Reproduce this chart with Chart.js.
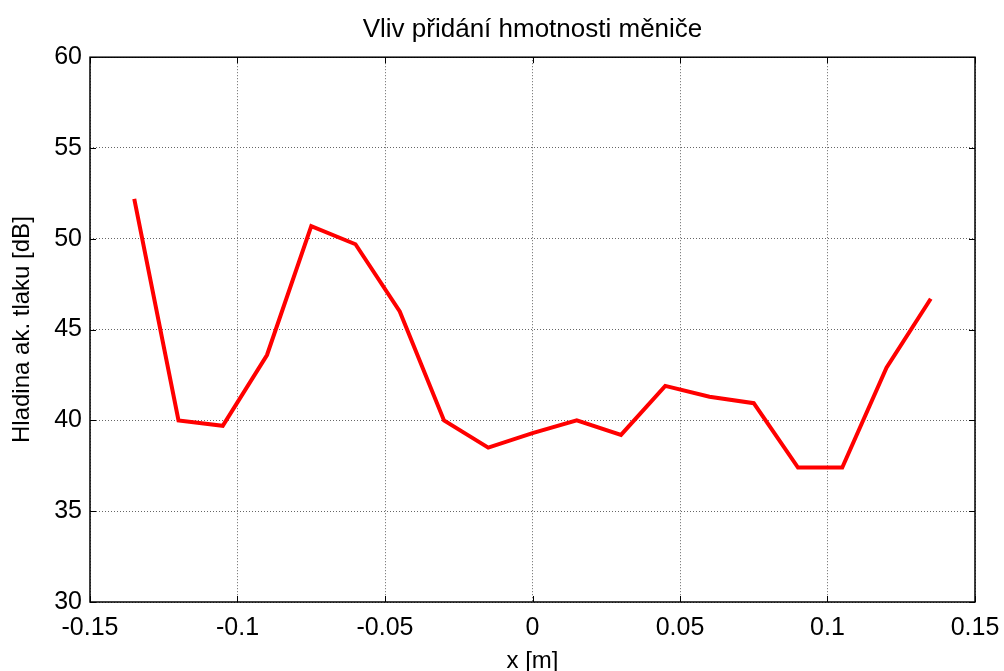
<!DOCTYPE html>
<html>
<head>
<meta charset="utf-8">
<title>Vliv přidání hmotnosti měniče</title>
<script src="https://cdn.jsdelivr.net/npm/chart.js@4.4.1/dist/chart.umd.min.js"></script>
<style>
    html, body { margin: 0; padding: 0; background: #fff; }
    #graf { display: block; }
</style>
</head>
<body>
<canvas id="graf" width="1004" height="671"></canvas>
<script>
const polohy = [-0.135, -0.12, -0.105, -0.09, -0.075, -0.06, -0.045, -0.03, -0.015, 0,
    0.015, 0.03, 0.045, 0.06, 0.075, 0.09, 0.105, 0.12, 0.135];
const hladiny = [52.2, 40.0, 39.7, 43.6, 50.7, 49.7, 46.0, 40.0, 38.5, 39.3,
    40.0, 39.2, 41.9, 41.3, 40.95, 37.4, 37.4, 42.9, 46.7];

const nadpis = "Vliv přidání hmotnosti měniče";
const popisX = "x [m]";
const popisY = "Hladina ak. tlaku [dB]";

const body = polohy.map((x, i) => ({ x: x, y: hladiny[i] }));

Chart.defaults.font.family = "'Liberation Sans', Arial, sans-serif";
Chart.defaults.color = "#000";

// MATLAB-like box with inward ticks on all four sides
const ramecek = {
    id: "ramecek",
    afterDraw(chart) {
        const { ctx, chartArea: a, scales } = chart;
        const delka = 6;
        ctx.save();
        ctx.strokeStyle = "#000";
        ctx.lineWidth = 1;
        scales.x.ticks.forEach(t => {
            const px = Math.round(scales.x.getPixelForValue(t.value)) + 0.5;
            ctx.beginPath();
            ctx.moveTo(px, a.bottom);
            ctx.lineTo(px, a.bottom - delka);
            ctx.moveTo(px, a.top);
            ctx.lineTo(px, a.top + delka);
            ctx.stroke();
        });
        scales.y.ticks.forEach(t => {
            const py = Math.round(scales.y.getPixelForValue(t.value)) + 0.5;
            ctx.beginPath();
            ctx.moveTo(a.left, py);
            ctx.lineTo(a.left + delka, py);
            ctx.moveTo(a.right, py);
            ctx.lineTo(a.right - delka, py);
            ctx.stroke();
        });
        ctx.lineWidth = 1.5;
        ctx.strokeRect(a.left, a.top, a.right - a.left, a.bottom - a.top);
        ctx.restore();
    }
};

new Chart(document.getElementById("graf"), {
    type: "line",
    data: {
        datasets: [{
            data: body,
            borderColor: "#ff0000",
            borderWidth: 4,
            pointRadius: 0,
            tension: 0,
            fill: false
        }]
    },
    options: {
        responsive: false,
        animation: false,
        layout: { padding: { left: 0, right: 29, top: 0, bottom: 0 } },
        plugins: {
            legend: { display: false },
            tooltip: { enabled: false },
            title: {
                display: true,
                text: nadpis,
                fullSize: false,
                font: { size: 26, weight: "normal", lineHeight: 1.2 },
                padding: { top: 14, bottom: 12 }
            }
        },
        scales: {
            x: {
                type: "linear",
                min: -0.15,
                max: 0.15,
                ticks: {
                    stepSize: 0.05,
                    padding: 3,
                    maxRotation: 0,
                    font: { size: 25 },
                    callback: v => String(Number(v.toFixed(2)))
                },
                grid: {
                    color: "#666",
                    lineWidth: 1,
                    drawTicks: true,
                    tickLength: 8,
                    tickColor: "rgba(0,0,0,0)"
                },
                border: { display: false, dash: [1, 2] },
                title: {
                    display: true,
                    text: popisX,
                    font: { size: 24, lineHeight: 1 },
                    padding: { top: 0, bottom: -2 }
                },
                afterFit: s => { s.height = 69; }
            },
            y: {
                min: 30,
                max: 60,
                ticks: {
                    stepSize: 5,
                    padding: 8,
                    font: { size: 25 }
                },
                grid: { color: "#666", lineWidth: 1, drawTicks: false },
                border: { display: false, dash: [1, 2] },
                title: {
                    display: true,
                    text: popisY,
                    font: { size: 24, lineHeight: 1 },
                    padding: { top: 10, bottom: 0 }
                },
                afterFit: s => { s.width = 90; }
            }
        }
    },
    plugins: [ramecek]
});
</script>
</body>
</html>
